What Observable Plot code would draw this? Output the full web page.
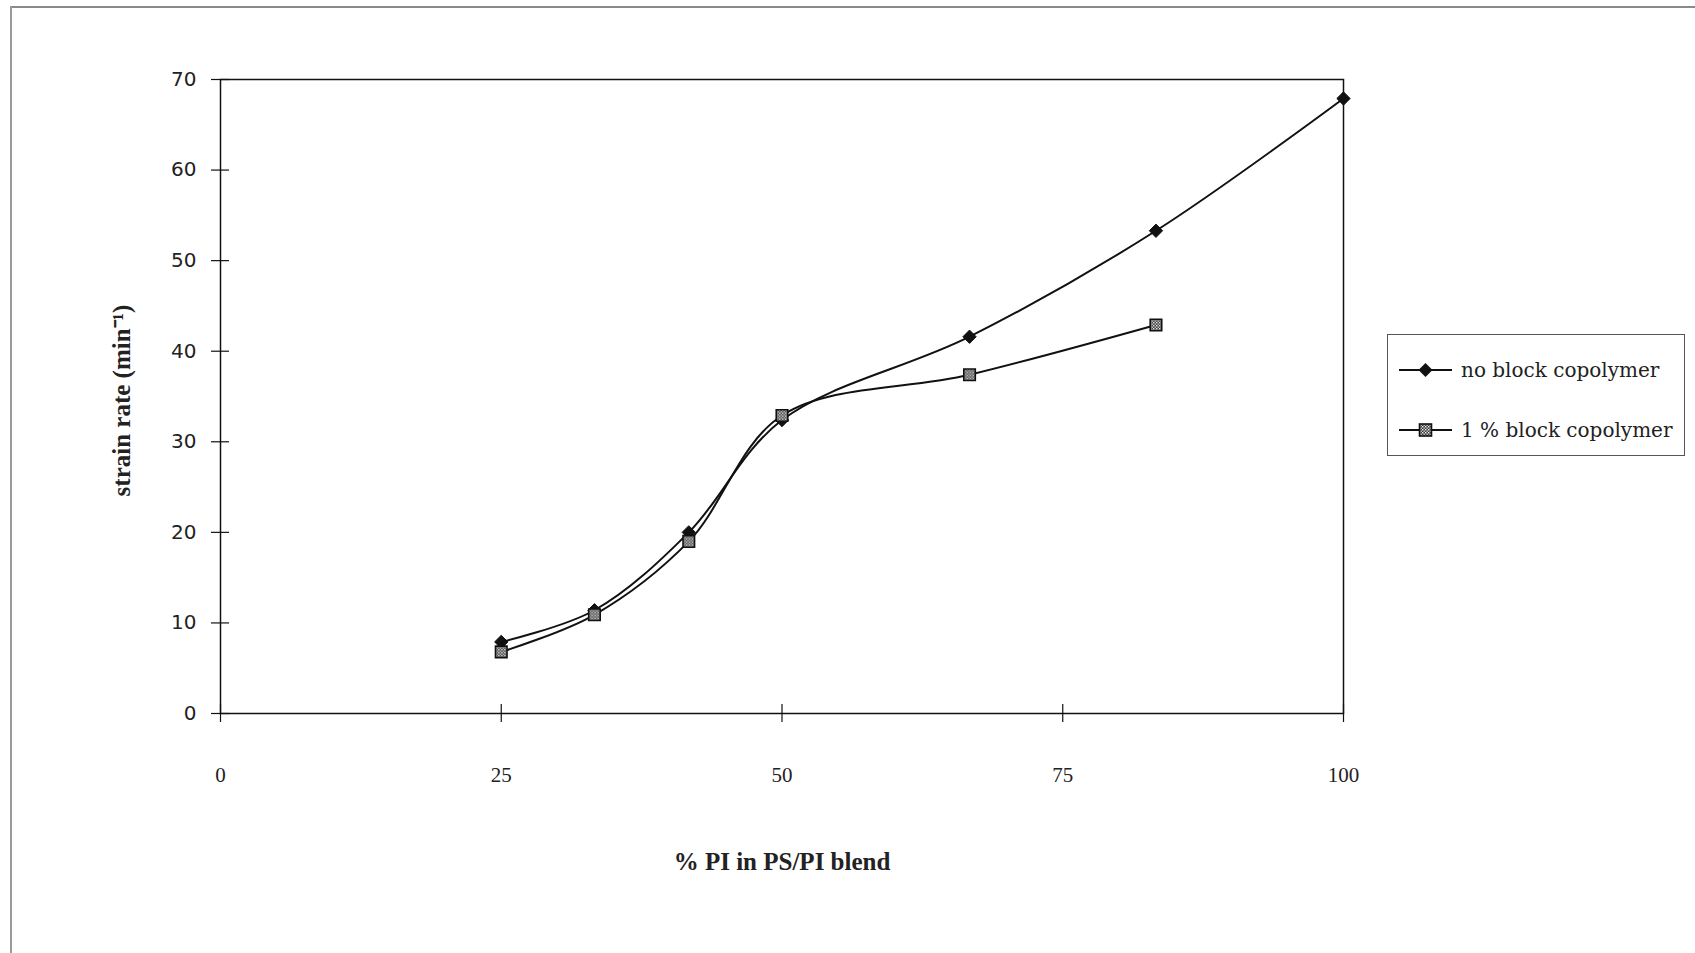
<!DOCTYPE html>
<html>
<head>
<meta charset="utf-8">
<script src="https://cdn.jsdelivr.net/npm/d3@7"></script>
<script src="https://cdn.jsdelivr.net/npm/@observablehq/plot@0.6"></script>
<style>
  html, body { margin: 0; padding: 0; background: #fff; }
  #page { position: relative; width: 1695px; height: 953px; overflow: hidden; background: #fff; }
  #chart { position: absolute; left: 0; top: 0; }
  .edge-top { position: absolute; left: 10px; top: 6px; width: 1685px; height: 0; border-top: 2px solid #8a8a8a; }
  .edge-left { position: absolute; left: 10px; top: 6px; width: 0; height: 947px; border-left: 2px solid #9a9a9a; }
  #legend { position: absolute; left: 1387px; top: 334px; width: 296px; height: 120px; border: 1px solid #555; background: #fff;
            font-family: "DejaVu Serif", "Liberation Serif", serif; font-size: 20px; color: #222; }
  .entry { position: absolute; left: 10px; display: flex; align-items: center; white-space: nowrap; }
  .entry svg { margin-right: 8px; }
</style>
</head>
<body>
<svg width="0" height="0" style="position:absolute">
  <defs>
    <pattern id="checker" patternUnits="userSpaceOnUse" width="3" height="3">
      <rect width="3" height="3" fill="#3a3a3a"></rect>
      <rect x="0" y="0" width="1.4" height="1.4" fill="#f2f2f2"></rect>
      <rect x="1.5" y="1.5" width="1.4" height="1.4" fill="#d8d8d8"></rect>
    </pattern>
  </defs>
</svg>
<div id="page">
  <div class="edge-top"></div>
  <div class="edge-left"></div>
  <div id="chart"></div>
  <div id="legend"></div>
</div>
<script>
// ---- data ----
const xTicks = [0, 25, 50, 75, 100];
const yTicks = [0, 10, 20, 30, 40, 50, 60, 70];
const seriesNames = ["no block copolymer", "1 % block copolymer"];
const pctPI_noBlock = [25, 33.3, 41.7, 50, 66.7, 83.3, 100];
const strain_noBlock = [7.9, 11.4, 20.0, 32.4, 41.6, 53.3, 67.9];
const pctPI_block1 = [25, 33.3, 41.7, 50, 66.7, 83.3];
const strain_block1 = [6.8, 10.9, 19.0, 32.9, 37.4, 42.9];
const xTitle = "% PI in PS/PI blend";
const yTitle = "strain rate (min\u207B\u00B9)";

const noBlock = pctPI_noBlock.map((x, i) => ({pct: x, rate: strain_noBlock[i]}));
const block1 = pctPI_block1.map((x, i) => ({pct: x, rate: strain_block1[i]}));

const ink = "#111";
const chart = Plot.plot({
  width: 1695,
  height: 953,
  marginLeft: 220,
  marginRight: 352,
  marginTop: 79,
  marginBottom: 240,
  style: {background: "transparent", fontFamily: "Liberation Serif, serif", color: ink},
  x: {domain: [0, 100], label: null},
  y: {domain: [0, 70], label: null},
  marks: [
    Plot.frame({stroke: ink, strokeWidth: 1.5}),
    // crossing tick marks
    Plot.axisX({ticks: xTicks, tickSize: 18, dy: -9, fill: "none", stroke: ink, strokeWidth: 1.2, label: null}),
    Plot.axisY({ticks: yTicks, tickSize: 18, dx: 9, fill: "none", stroke: ink, strokeWidth: 1.2, label: null}),
    // tick labels
    Plot.axisX({ticks: xTicks, tickSize: 0, tickPadding: 54, stroke: "none", fill: "#222",
                fontFamily: "Liberation Serif, serif", fontSize: 21, label: null}),
    Plot.axisY({ticks: yTicks, tickSize: 0, tickPadding: 24, stroke: "none", fill: "#222",
                fontFamily: "DejaVu Sans, sans-serif", fontSize: 20, label: null}),
    // axis titles
    Plot.text([xTitle], {frameAnchor: "bottom", dy: 156, textAnchor: "middle", fontFamily: "Liberation Serif, serif",
                         fontSize: 25, fontWeight: "bold", fill: "#222"}),
    Plot.text([yTitle], {frameAnchor: "left", dx: -99, dy: 4, rotate: -90, textAnchor: "middle",
                         fontFamily: "Liberation Serif, serif", fontSize: 25, fontWeight: "bold", fill: "#222"}),
    // series
    Plot.line(noBlock, {x: "pct", y: "rate", curve: "catmull-rom", stroke: ink, strokeWidth: 2}),
    Plot.dot(noBlock, {x: "pct", y: "rate", symbol: "diamond2", r: 6, fill: ink, stroke: ink, strokeWidth: 1}),
    Plot.line(block1, {x: "pct", y: "rate", curve: "catmull-rom", stroke: ink, strokeWidth: 2}),
    Plot.dot(block1, {x: "pct", y: "rate", symbol: "square", r: 6.5, fill: "url(#checker)", stroke: ink, strokeWidth: 1.6})
  ]
});
document.getElementById("chart").appendChild(chart);

// ---- legend (HTML) ----
const legend = document.getElementById("legend");
const swatches = [
  `<svg width="55" height="20"><line x1="1" y1="10" x2="54" y2="10" stroke="${ink}" stroke-width="2"/><path d="M27.5,3 L34.5,10 L27.5,17 L20.5,10 Z" fill="${ink}"/></svg>`,
  `<svg width="55" height="20"><line x1="1" y1="10" x2="54" y2="10" stroke="${ink}" stroke-width="2"/><rect x="21.5" y="4" width="12" height="12" fill="url(#checker)" stroke="${ink}" stroke-width="1.6"/></svg>`
];
const tops = [23, 83];
seriesNames.forEach((name, i) => {
  const e = document.createElement("div");
  e.className = "entry";
  e.style.top = tops[i] + "px";
  e.innerHTML = swatches[i] + `<span>${name}</span>`;
  legend.appendChild(e);
});
</script>
</body>
</html>
